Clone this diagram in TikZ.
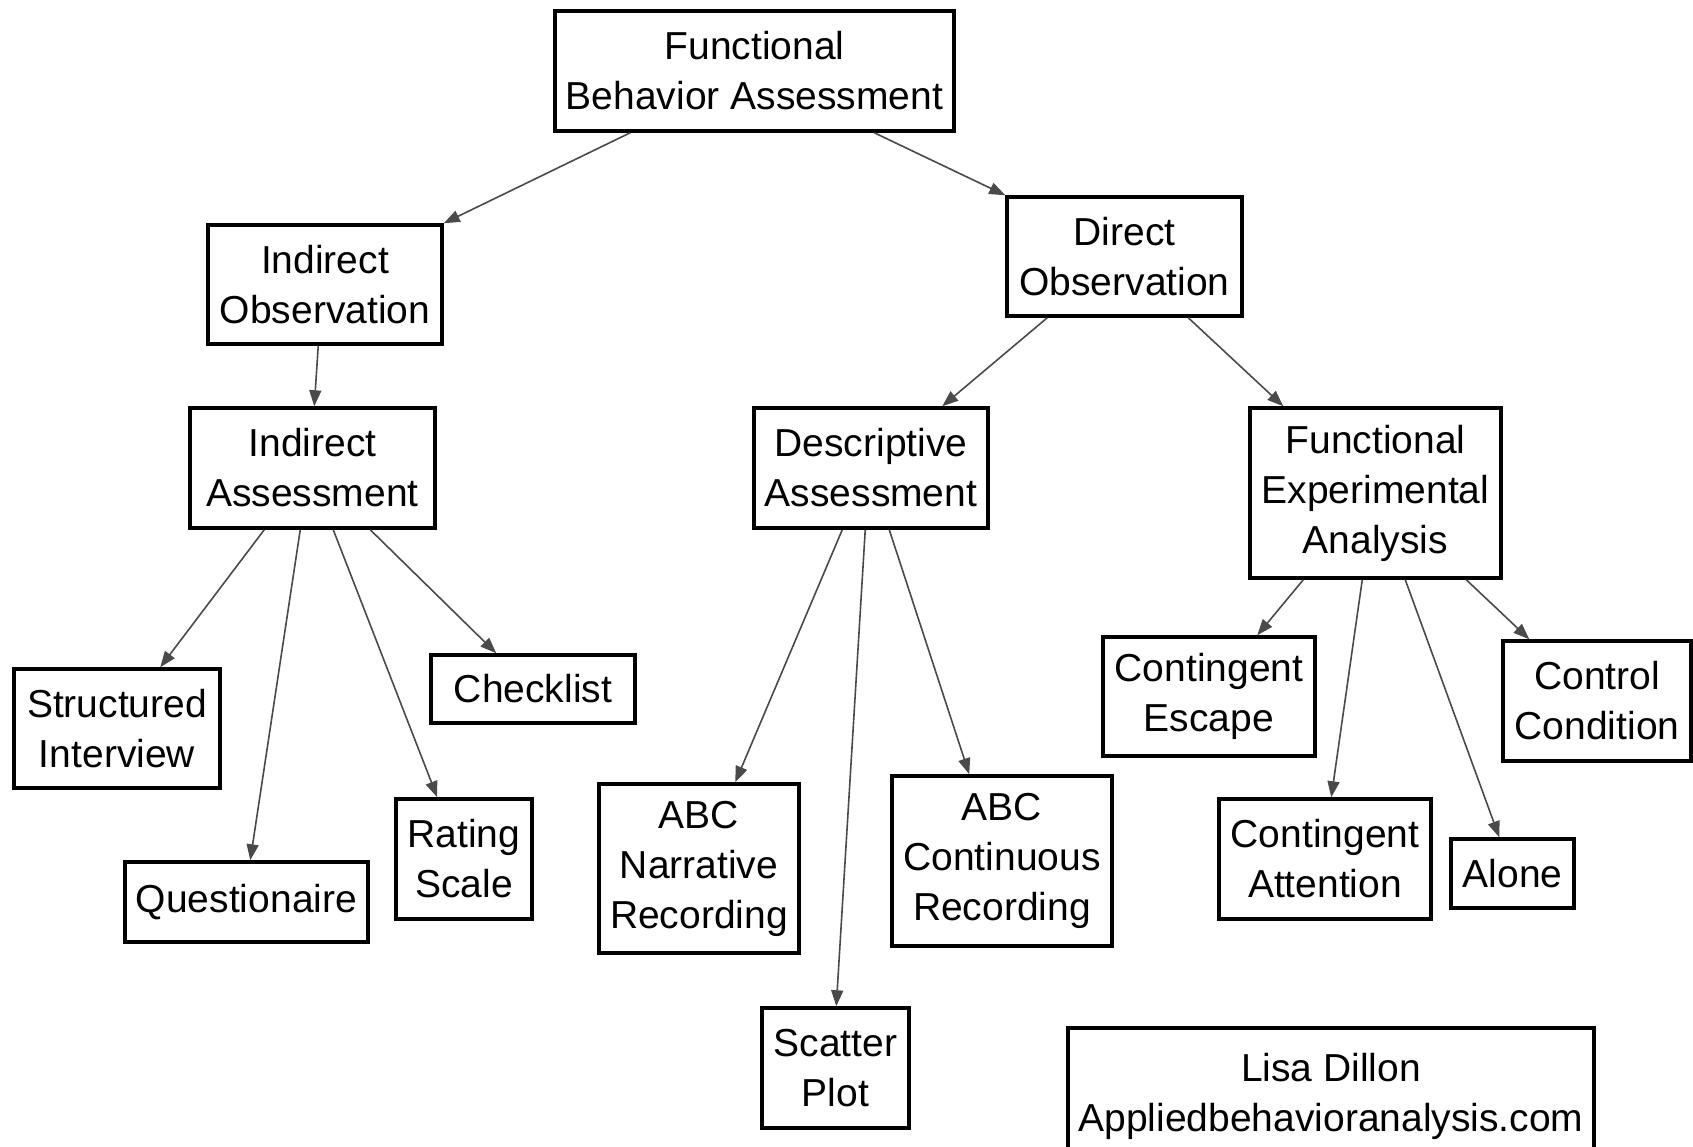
\documentclass[tikz,border=0pt]{standalone}
\usepackage{fontspec}
\setmainfont{Liberation Sans}
\usetikzlibrary{arrows.meta}
\definecolor{linkgray}{HTML}{4A4A4A}
\tikzset{
  box/.style={draw=black, line width=3.5pt, align=center, inner sep=0pt,
    font=\fontsize{39}{50}\selectfont},
  link/.style={draw=linkgray, line width=1.6pt,
    -{Triangle[length=16pt,width=12pt]}},
}
\begin{document}
\begin{tikzpicture}[x=1pt,y=-1pt]
\useasboundingbox[fill=white] (0,0) rectangle (1693,1146);

% top level
\node[box, minimum width=399pt, minimum height=120pt] (fba) at (754.5,71) {Functional\\Behavior Assessment};

% second level
\node[box, minimum width=234pt, minimum height=119pt] (io) at (325,284.5) {Indirect\\Observation};
\node[box, minimum width=235pt, minimum height=119pt] (do) at (1124.5,256.5) {Direct\\Observation};

% third level
\node[box, minimum width=245pt, minimum height=120pt] (ia) at (312.5,468) {Indirect\\Assessment};
\node[box, minimum width=234pt, minimum height=120pt] (da) at (871,468) {Descriptive\\Assessment};
\node[box, minimum width=251pt, minimum height=170pt] (fea) at (1375.5,493) {Functional\\Experimental\\Analysis};

% indirect assessment methods
\node[box, minimum width=206pt, minimum height=119pt] (si) at (117,728.5) {Structured\\Interview};
\node[box, minimum width=204pt, minimum height=68pt] (cl) at (533,689) {Checklist};
\node[box, minimum width=243pt, minimum height=80pt] (qu) at (246.5,902) {Questionaire};
\node[box, minimum width=136pt, minimum height=120pt] (rs) at (464,859) {Rating\\Scale};

% descriptive assessment methods
\node[box, minimum width=200pt, minimum height=169pt] (abcn) at (699,868.5) {ABC\\Narrative\\Recording};
\node[box, minimum width=220pt, minimum height=170pt] (abcc) at (1002,861) {ABC\\Continuous\\Recording};
\node[box, minimum width=147pt, minimum height=120pt] (sp) at (835.5,1068) {Scatter\\Plot};

% experimental conditions
\node[box, minimum width=212pt, minimum height=119pt] (ce) at (1209,696.5) {Contingent\\Escape};
\node[box, minimum width=188pt, minimum height=120pt] (cc) at (1597,701) {Control\\Condition};
\node[box, minimum width=212pt, minimum height=120pt] (ca) at (1325,859) {Contingent\\Attention};
\node[box, minimum width=123pt, minimum height=69pt] (al) at (1512.5,873.5) {Alone};

% credit
\node[box, minimum width=526pt, minimum height=136pt] (ld) at (1331,1096) {Lisa Dillon\\Appliedbehavioranalysis.com};

% connectors
\draw[link] ([xshift=77pt]fba.south west) -- (io.north east);
\draw[link] ([xshift=321pt]fba.south west) -- (do.north west);
\draw[link] ([xshift=112pt]io.south west) -- ([xshift=126pt]ia.north west);
\draw[link] ([xshift=42pt]do.south west) -- ([xshift=190pt]da.north west);
\draw[link] ([xshift=183pt]do.south west) -- ([xshift=35pt]fea.north west);

\draw[link] ([xshift=76pt]ia.south west) -- ([xshift=148pt]si.north west);
\draw[link] ([xshift=112pt]ia.south west) -- ([xshift=127pt]qu.north west);
\draw[link] ([xshift=145pt]ia.south west) -- ([xshift=43pt]rs.north west);
\draw[link] ([xshift=182pt]ia.south west) -- ([xshift=67pt]cl.north west);

\draw[link] ([xshift=90pt]da.south west) -- ([xshift=138pt]abcn.north west);
\draw[link] ([xshift=113pt]da.south west) -- ([xshift=76pt]sp.north west);
\draw[link] ([xshift=137pt]da.south west) -- ([xshift=79pt]abcc.north west);

\draw[link] ([xshift=55pt]fea.south west) -- ([xshift=156pt]ce.north west);
\draw[link] ([xshift=114pt]fea.south west) -- ([xshift=114pt]ca.north west);
\draw[link] ([xshift=157pt]fea.south west) -- ([xshift=50pt]al.north west);
\draw[link] ([xshift=218pt]fea.south west) -- ([xshift=28pt]cc.north west);
\end{tikzpicture}
\end{document}
